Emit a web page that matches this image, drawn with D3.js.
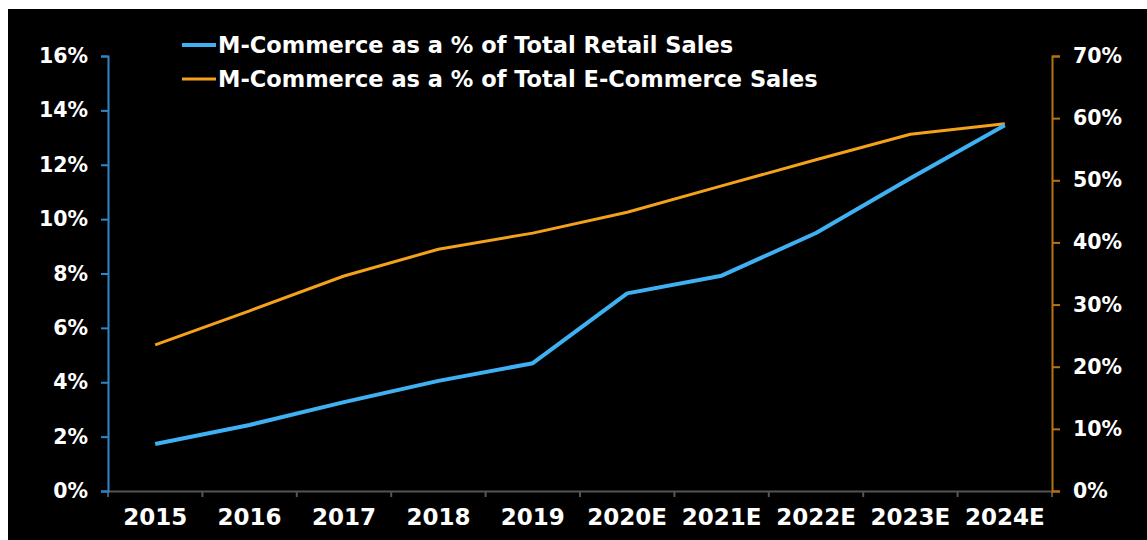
<!DOCTYPE html>
<html>
<head>
<meta charset="utf-8">
<script src="https://cdn.jsdelivr.net/npm/d3@7"></script>
<style>
  html, body { margin: 0; padding: 0; background: #ffffff; }
  svg { display: block; }
  text { font-family: "DejaVu Sans", Verdana, sans-serif; font-weight: bold; fill: #ffffff; }
</style>
</head>
<body>
<svg id="chart" width="1147" height="540"></svg>
<script>
// Years shown on the category axis
const years = ["2015", "2016", "2017", "2018", "2019", "2020E", "2021E", "2022E", "2023E", "2024E"];

// M-Commerce share of total retail sales (%), left axis
const retailShare = [1.73, 2.43, 3.27, 4.05, 4.70, 7.27, 7.92, 9.49, 11.5, 13.45];

// M-Commerce share of total e-commerce sales (%), right axis
const ecomShare = [23.5, 29.0, 34.6, 38.9, 41.5, 44.85, 49.1, 53.3, 57.4, 59.1];

// Axis tick values
const leftTicks = [0, 2, 4, 6, 8, 10, 12, 14, 16];
const rightTicks = [0, 10, 20, 30, 40, 50, 60, 70];

const seriesNames = [
  "M-Commerce as a % of Total Retail Sales",
  "M-Commerce as a % of Total E-Commerce Sales"
];

const blue = "#3fb0f2";
const orange = "#f4a11b";
const blueAxis = "#2f86c8";
const orangeAxis = "#b8730f";
const gridGrey = "#555555";

const svg = d3.select("#chart");

// Black chart panel inside a thin white margin
svg.append("rect")
  .attr("x", 8).attr("y", 9)
  .attr("width", 1147 - 8).attr("height", 540 - 9)
  .attr("fill", "#000000");

const plot = { left: 108, right: 1052, top: 56, bottom: 491 };

const x = d3.scaleBand().domain(years).range([plot.left, plot.right]).padding(0);
const xc = d => x(d) + x.bandwidth() / 2;
const yL = d3.scaleLinear().domain([0, 16]).range([plot.bottom, plot.top]);
const yR = d3.scaleLinear().domain([0, 70]).range([plot.bottom, plot.top]);

const fmt = d => d + "%";

// Bottom axis: labels centred in each band, ticks on band boundaries
const xAxis = svg.append("g")
  .attr("transform", `translate(0,${plot.bottom})`)
  .call(d3.axisBottom(x).tickSize(0).tickPadding(18));
xAxis.select(".domain").attr("stroke", gridGrey).attr("stroke-width", 2);
xAxis.selectAll(".tick text").style("font-size", "23px").attr("fill", "#ffffff");

const boundaries = years.map(d => x(d)).concat([plot.right]);
xAxis.selectAll(".bound")
  .data(boundaries)
  .join("line")
  .attr("class", "bound")
  .attr("x1", d => d).attr("x2", d => d)
  .attr("y1", 0).attr("y2", 6)
  .attr("stroke", gridGrey).attr("stroke-width", 2);

// Left axis (retail share)
const leftAxis = svg.append("g")
  .attr("transform", `translate(${plot.left},0)`)
  .call(d3.axisLeft(yL).tickValues(leftTicks).tickFormat(fmt).tickSize(7).tickSizeOuter(7).tickPadding(13));
leftAxis.select(".domain").attr("stroke", blueAxis).attr("stroke-width", 2);
leftAxis.selectAll(".tick line").attr("stroke", blueAxis).attr("stroke-width", 2);
leftAxis.selectAll(".tick text").style("font-size", "20.5px").attr("fill", "#ffffff");

// Right axis (e-commerce share)
const rightAxis = svg.append("g")
  .attr("transform", `translate(${plot.right},0)`)
  .call(d3.axisRight(yR).tickValues(rightTicks).tickFormat(fmt).tickSize(8).tickSizeOuter(8).tickPadding(13));
rightAxis.select(".domain").attr("stroke", orangeAxis).attr("stroke-width", 2);
rightAxis.selectAll(".tick line").attr("stroke", orangeAxis).attr("stroke-width", 2);
rightAxis.selectAll(".tick text").style("font-size", "20.5px").attr("fill", "#ffffff");

// Series lines
const lineL = d3.line().x((d, i) => xc(years[i])).y(d => yL(d));
const lineR = d3.line().x((d, i) => xc(years[i])).y(d => yR(d));

svg.append("path")
  .datum(ecomShare)
  .attr("d", lineR)
  .attr("fill", "none")
  .attr("stroke", orange)
  .attr("stroke-width", 3)
  .attr("stroke-linejoin", "round");

svg.append("path")
  .datum(retailShare)
  .attr("d", lineL)
  .attr("fill", "none")
  .attr("stroke", blue)
  .attr("stroke-width", 4)
  .attr("stroke-linejoin", "round");

// Legend
const legend = svg.append("g");
const legendRows = [
  { name: seriesNames[0], color: blue, w: 4, y: 45 },
  { name: seriesNames[1], color: orange, w: 3, y: 79 }
];
legendRows.forEach(r => {
  legend.append("line")
    .attr("x1", 182).attr("x2", 216)
    .attr("y1", r.y).attr("y2", r.y)
    .attr("stroke", r.color).attr("stroke-width", r.w);
  legend.append("text")
    .attr("x", 218).attr("y", r.y)
    .attr("dy", "0.36em")
    .style("font-size", "22.5px")
    .text(r.name);
});
</script>
</body>
</html>
